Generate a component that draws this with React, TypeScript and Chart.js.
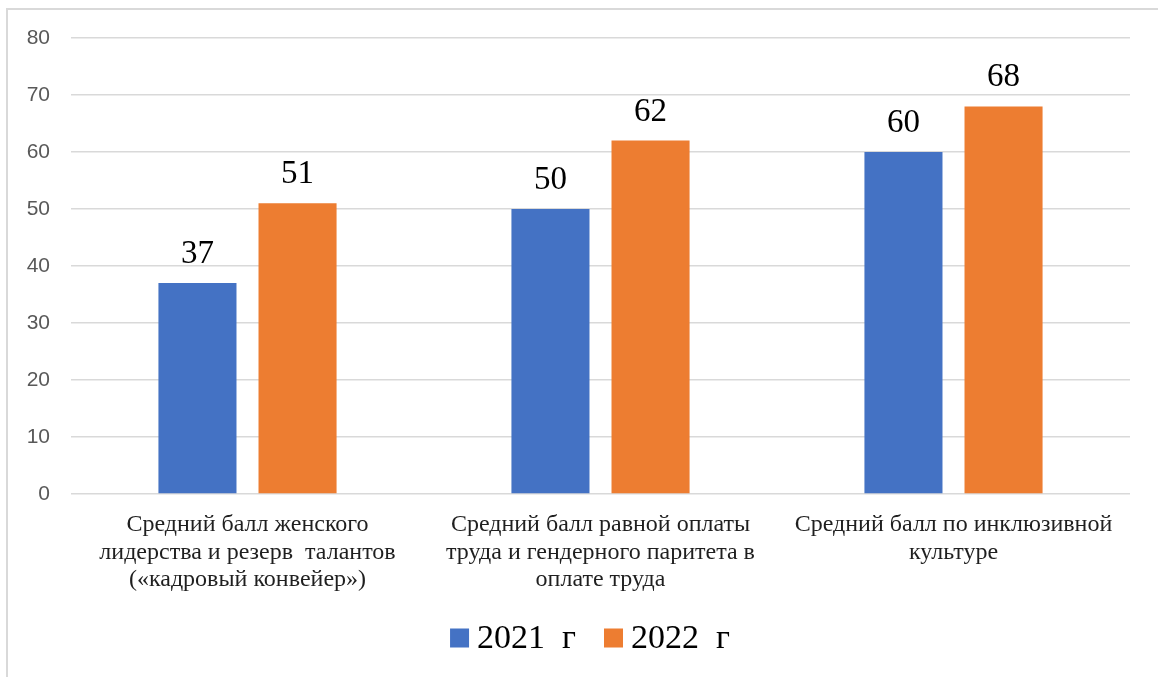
import React, { useEffect, useRef } from "react";
import { Chart, registerables } from "chart.js";

Chart.register(...registerables);

const categories: string[][] = [
  ["Средний балл женского", "лидерства и резерв  талантов", "(«кадровый конвейер»)"],
  ["Средний балл равной оплаты", "труда и гендерного паритета в", "оплате труда"],
  ["Средний балл по инклюзивной", "культуре"],
];
const series2021: number[] = [37, 50, 60];
const series2022: number[] = [51, 62, 68];
const seriesLabels: string[] = ["2021  г", "2022  г"];
const seriesColors: string[] = ["#4472C4", "#ED7D31"];
const yTicks: number[] = [0, 10, 20, 30, 40, 50, 60, 70, 80];

const SERIF = "'Liberation Serif', 'Times New Roman', serif";
const SANS = "'Liberation Sans', Arial, sans-serif";

const dataLabelsPlugin = {
  id: "dataLabels",
  afterDatasetsDraw(chart: any) {
    const ctx = chart.ctx;
    ctx.save();
    ctx.font = `33px ${SERIF}`;
    ctx.fillStyle = "#000000";
    ctx.textAlign = "center";
    ctx.textBaseline = "alphabetic";
    chart.data.datasets.forEach((ds: any, i: number) => {
      const meta = chart.getDatasetMeta(i);
      meta.data.forEach((bar: any, j: number) => {
        ctx.fillText(String(ds.data[j]), bar.x, bar.y - 20);
      });
    });
    ctx.restore();
  },
};

const customLegendPlugin = {
  id: "customLegend",
  afterDraw(chart: any) {
    const ctx = chart.ctx;
    ctx.save();
    ctx.font = `34px ${SERIF}`;
    const box = 19;
    const gapBoxText = 8;
    const gapItems = 28;
    const items = chart.data.datasets.map((ds: any) => ({
      label: ds.label,
      color: ds.backgroundColor,
      w: ctx.measureText(ds.label).width,
    }));
    const total = items.reduce(
      (s: number, it: any, i: number) => s + box + gapBoxText + it.w + (i > 0 ? gapItems : 0),
      0
    );
    const cy = 638;
    let x = 590 - total / 2;
    ctx.textBaseline = "middle";
    ctx.textAlign = "left";
    items.forEach((it: any) => {
      ctx.fillStyle = it.color;
      ctx.fillRect(x, cy - box / 2, box, box);
      x += box + gapBoxText;
      ctx.fillStyle = "#000000";
      ctx.fillText(it.label, x, cy + 1);
      x += it.w + gapItems;
    });
    ctx.restore();
  },
};

export default function App() {
  const canvasRef = useRef<HTMLCanvasElement | null>(null);

  useEffect(() => {
    if (!canvasRef.current) return;
    const chart = new Chart(canvasRef.current, {
      type: "bar",
      data: {
        labels: categories,
        datasets: [
          {
            label: seriesLabels[0],
            data: series2021,
            backgroundColor: seriesColors[0],
            categoryPercentage: 0.567,
            barPercentage: 0.78,
          },
          {
            label: seriesLabels[1],
            data: series2022,
            backgroundColor: seriesColors[1],
            categoryPercentage: 0.567,
            barPercentage: 0.78,
          },
        ],
      },
      options: {
        responsive: false,
        animation: false,
        layout: { padding: { top: 38, right: 28, bottom: 0, left: 0 } },
        plugins: {
          legend: { display: false },
          tooltip: { enabled: false },
        },
        scales: {
          x: {
            grid: { display: false, drawTicks: false },
            border: { display: false },
            ticks: {
              padding: 17,
              color: "#1f1f1f",
              font: { family: SERIF, size: 24, lineHeight: 1.15 },
              maxRotation: 0,
              autoSkip: false,
            },
            afterFit: (scale: any) => {
              scale.height = 183;
            },
          },
          y: {
            min: 0,
            max: 80,
            afterBuildTicks: (scale: any) => {
              scale.ticks = yTicks.map((v) => ({ value: v }));
            },
            grid: { color: "#d9d9d9", lineWidth: 1.5, drawTicks: false },
            border: { display: false },
            ticks: {
              padding: 21,
              color: "#595959",
              font: { family: SANS, size: 21 },
            },
            afterFit: (scale: any) => {
              scale.width = 71;
            },
          },
        },
      },
      plugins: [dataLabelsPlugin, customLegendPlugin],
    });
    return () => chart.destroy();
  }, []);

  return (
    <div style={{ position: "fixed", left: 0, top: 0, width: 1158, height: 677, background: "#ffffff" }}>
      <div
        style={{
          position: "absolute",
          left: 6,
          top: 8,
          width: 1200,
          height: 720,
          border: "2.5px solid #d9d9d9",
          boxSizing: "border-box",
        }}
      />
      <canvas
        ref={canvasRef}
        width={1158}
        height={677}
        style={{ position: "absolute", left: 0, top: 0, width: 1158, height: 677 }}
      />
    </div>
  );
}
